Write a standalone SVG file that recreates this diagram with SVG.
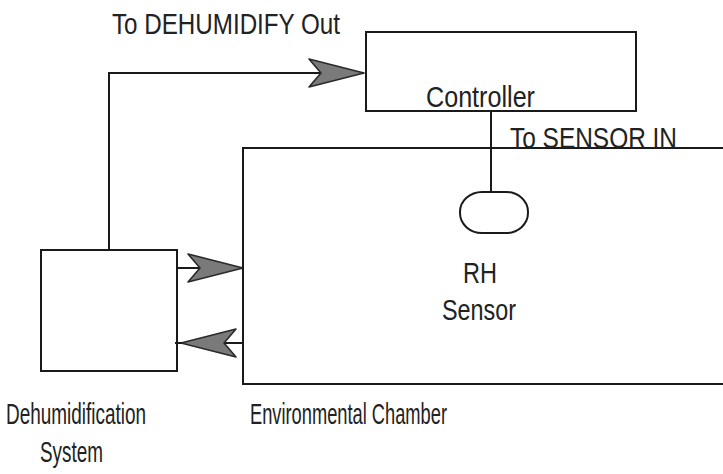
<svg xmlns="http://www.w3.org/2000/svg" width="723" height="474" viewBox="0 0 723 474">
  <style>
    .box { fill: none; stroke: #1a1a1a; stroke-width: 2; }
    .wire { fill: none; stroke: #1a1a1a; stroke-width: 2; }
    .lbl { font-family: "Liberation Sans", Arial, sans-serif; font-size: 29px; fill: #222; }
  </style>
  <defs>
    <marker id="dart" markerUnits="userSpaceOnUse" markerWidth="60" markerHeight="34" viewBox="-57 -17 60 34" refX="0" refY="0" orient="auto">
      <polygon points="0,0 -55,-14 -43,0 -55,14" fill="#7a7a7a" stroke="#2a2a2a" stroke-width="1.6" stroke-linejoin="round"/>
    </marker>
  </defs>
  <rect width="723" height="474" fill="#ffffff"/>

  <g id="connectors">
    <path class="wire" d="M109 250 V73 H364" marker-end="url(#dart)"/>
    <path class="wire" d="M177 268 H243" marker-end="url(#dart)"/>
    <path class="wire" d="M243 343 H181" marker-end="url(#dart)"/>
    <path class="wire" d="M175 343 H182"/>
    <path class="wire" d="M491 112 V192"/>
  </g>

  <g id="controller">
    <rect class="box" x="366" y="32" width="270" height="79"/>
    <text class="lbl" x="426" y="107" textLength="109" lengthAdjust="spacingAndGlyphs">Controller</text>
  </g>

  <g id="chamber">
    <path class="box" d="M723 148 H243 V384 H723"/>
    <text class="lbl" x="250" y="424" textLength="197" lengthAdjust="spacingAndGlyphs">Environmental Chamber</text>
  </g>

  <g id="sensor">
    <rect class="box" x="460" y="192" width="68" height="41" rx="22" ry="20"/>
    <text class="lbl" x="463" y="283" textLength="34" lengthAdjust="spacingAndGlyphs">RH</text>
    <text class="lbl" x="442" y="320" textLength="74" lengthAdjust="spacingAndGlyphs">Sensor</text>
  </g>

  <g id="dehumidifier">
    <rect class="box" x="41" y="250" width="136" height="121"/>
    <text class="lbl" x="6" y="424" textLength="140" lengthAdjust="spacingAndGlyphs">Dehumidification</text>
    <text class="lbl" x="40" y="462" textLength="63" lengthAdjust="spacingAndGlyphs">System</text>
  </g>

  <g id="labels">
    <text class="lbl" x="112" y="34" textLength="228" lengthAdjust="spacingAndGlyphs">To DEHUMIDIFY Out</text>
    <text class="lbl" x="510" y="148" textLength="167" lengthAdjust="spacingAndGlyphs">To SENSOR IN</text>
  </g>
</svg>
